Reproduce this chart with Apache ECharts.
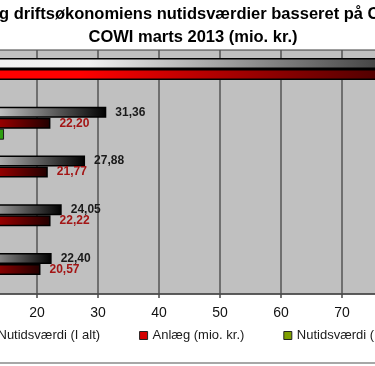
<!DOCTYPE html>
<html>
<head>
<meta charset="utf-8">
<script src="https://cdn.jsdelivr.net/npm/echarts@6/dist/echarts.min.js"></script>
<style>
html,body{margin:0;padding:0;background:#fff;overflow:hidden;width:375px;height:366px;position:relative;}
#chart{position:absolute;left:-200px;top:0;width:800px;height:366px;}
</style>
</head>
<body>
<div id="chart"></div>
<script>
// Data (categories off-screen on the left in the reference)
const categories = ['Kategori 1', 'Kategori 2', 'Kategori 3', 'Kategori 4', 'Kategori 5'];
const seriesNames = ['Nutidsværdi (I alt)', 'Anlæg (mio. kr.)', 'Nutidsværdi (Drift)'];
const totalValues = [95.0, 31.36, 27.88, 24.05, 22.40];
const anlaegValues = [90.0, 22.20, 21.77, 22.22, 20.57];
const driftValues = [2.0, 14.6, 6.1, 1.8, 1.8];
const xTicks = [0, 10, 20, 30, 40, 50, 60, 70, 80, 90, 100];
const titleLine1 = 'g driftsøkonomiens nutidsværdier basseret på C';
const titleLine2 = 'COWI marts 2013 (mio. kr.)';

const OFFSET = 200; // container is shifted left by this many px
const FONT = '"Liberation Sans", Arial, sans-serif';
const chart = echarts.init(document.getElementById('chart'), null, {renderer: 'canvas'});
const fmt = v => v.toFixed(2).replace('.', ',');
const grad = stops => new echarts.graphic.LinearGradient(0, 0, 1, 0, stops.map(s => ({offset: s[0], color: s[1]})));

chart.setOption({
  animation: false,
  textStyle: {fontFamily: FONT},
  graphic: [
    {type: 'text', x: OFFSET - 1, y: 14, style: {text: titleLine1, font: 'bold 16.5px ' + FONT, fill: '#000', align: 'left', verticalAlign: 'middle'}},
    {type: 'text', x: OFFSET + 193, y: 37, style: {text: titleLine2, font: 'bold 16.5px ' + FONT, fill: '#000', align: 'center', verticalAlign: 'middle'}},
    {type: 'line', shape: {x1: 0, y1: 363, x2: 800, y2: 363}, style: {stroke: '#8a8a8a', lineWidth: 1.5}}
  ],
  grid: {left: 115, right: 75, top: 50, bottom: 72, show: true, backgroundColor: '#c0c0c0', borderColor: '#3a3a3a', borderWidth: 1},
  legend: {
    left: OFFSET - 21, top: 324, itemWidth: 8, itemHeight: 8, itemGap: 39,
    textStyle: {fontSize: 13, color: '#1a1a1a', fontFamily: FONT},
    data: [
      {name: seriesNames[0], icon: 'rect', itemStyle: {color: '#808080', borderColor: '#222', borderWidth: 1}},
      {name: seriesNames[1], icon: 'rect', itemStyle: {color: '#d40000', borderColor: '#222', borderWidth: 1}},
      {name: seriesNames[2], icon: 'rect', itemStyle: {color: '#7f9f00', borderColor: '#222', borderWidth: 1}}
    ]
  },
  xAxis: {
    type: 'value', min: xTicks[0], max: xTicks[xTicks.length - 1], interval: 10,
    axisLine: {show: true, lineStyle: {color: '#4a4a4a', width: 1.5}},
    axisTick: {show: true, length: 4, lineStyle: {color: '#4a4a4a', width: 1.5}},
    axisLabel: {fontSize: 14, color: '#111', margin: 12, fontFamily: FONT},
    splitLine: {show: true, lineStyle: {color: '#555', width: 1.5}}
  },
  yAxis: {
    type: 'category', data: categories, inverse: true,
    axisLine: {show: false}, axisTick: {show: false}, axisLabel: {show: false}
  },
  series: [
    {
      name: seriesNames[0], type: 'bar', data: totalValues, barWidth: 11, barGap: '0%',
      itemStyle: {color: grad([[0, '#f4f4f4'], [0.3, '#f0f0f0'], [1, '#000000']]), borderColor: '#000', borderWidth: 1.5},
      label: {show: true, position: 'right', distance: 9, formatter: p => fmt(p.value), color: '#1a1a1a', fontWeight: 'bold', fontSize: 12, fontFamily: FONT}
    },
    {
      name: seriesNames[1], type: 'bar', data: anlaegValues, barWidth: 11, barGap: '0%',
      itemStyle: {color: grad([[0, '#ff0000'], [0.3, '#ff0000'], [1, '#200000']]), borderColor: '#000', borderWidth: 1.5},
      label: {show: true, position: 'right', distance: 9, formatter: p => fmt(p.value), color: '#a31515', fontWeight: 'bold', fontSize: 12, fontFamily: FONT}
    },
    {
      name: seriesNames[2], type: 'bar', data: driftValues, barWidth: 11, barGap: '0%',
      itemStyle: {color: grad([[0, '#ccff99'], [0.5, '#66dd33'], [1, '#2a9a10']]), borderColor: '#1a1a1a', borderWidth: 1},
      label: {show: false}
    }
  ]
});
</script>
</body>
</html>
